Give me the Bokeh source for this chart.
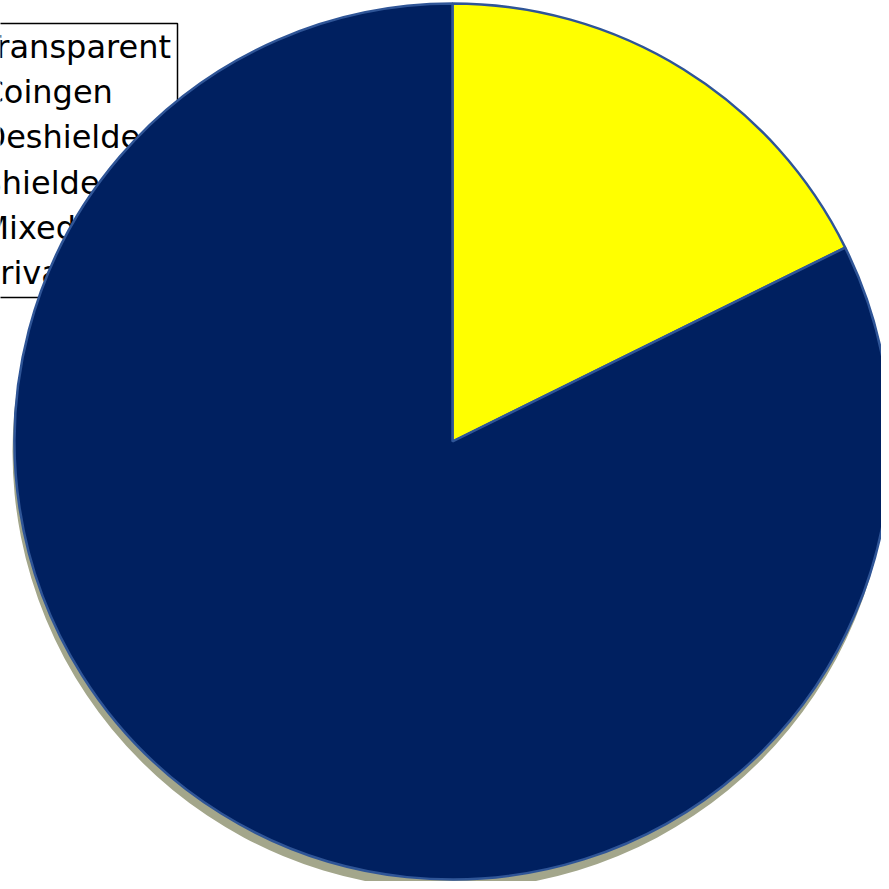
import math
from bokeh.plotting import figure
from bokeh.models import Range1d
from bokeh.core.properties import value
from bokeh.embed import file_html
from bokeh.resources import INLINE

categories = ["Transparent", "Coingen", "Deshielded", "Shielded", "Mixed", "Private"]
values = [17.7, 0.0, 0.0, 0.0, 0.0, 82.3]
colors = ["#FFFF00", "#C00000", "#00B050", "#7030A0", "#FF6600", "#002060"]

W = 881
H = 881
cx, cy, R = 452, 440, 438

p = figure(width=W, height=H, output_backend="svg", toolbar_location=None,
           x_range=Range1d(0, W), y_range=Range1d(0, H), min_border=0)
p.axis.visible = False
p.grid.visible = False
p.outline_line_color = None
p.background_fill_color = "white"
p.border_fill_color = "white"

# ---- legend (drawn first, so the pie lies over it as in the reference) ----
leg_top, leg_bottom, leg_left, leg_right = H - 23, H - 297, -60, 177
p.quad(left=[leg_left], right=[leg_right], top=[leg_top], bottom=[leg_bottom],
       fill_color="white", line_color="black", line_width=1.5)
n = len(categories)
mid_y = [H - (46.5 + 45.2 * i) for i in range(n)]
text_x = [-19] * n
p.rect(x=[-32] * n, y=mid_y, width=18, height=18,
       fill_color=colors, line_color=None)
p.text(x=text_x, y=mid_y, text=categories, text_font=value("DejaVu Sans"),
       text_font_size="32px", text_color="black", text_align="left",
       text_baseline="middle")

# ---- shadow ----
p.circle(x=[cx - 2], y=[cy - 10], radius=R, fill_color="#a3a68b", line_color=None)

# ---- pie ----
total = sum(values)
start = math.pi / 2
for cat, v, col in zip(categories, values, colors):
    sweep = 2 * math.pi * v / total
    if v > 0:
        p.wedge(x=[cx], y=[cy], radius=R, start_angle=[start], end_angle=[start - sweep],
                direction="clock", fill_color=col, line_color="#2F5597", line_width=2.5)
    start -= sweep

open("out.html", "w").write(file_html(p, INLINE))
